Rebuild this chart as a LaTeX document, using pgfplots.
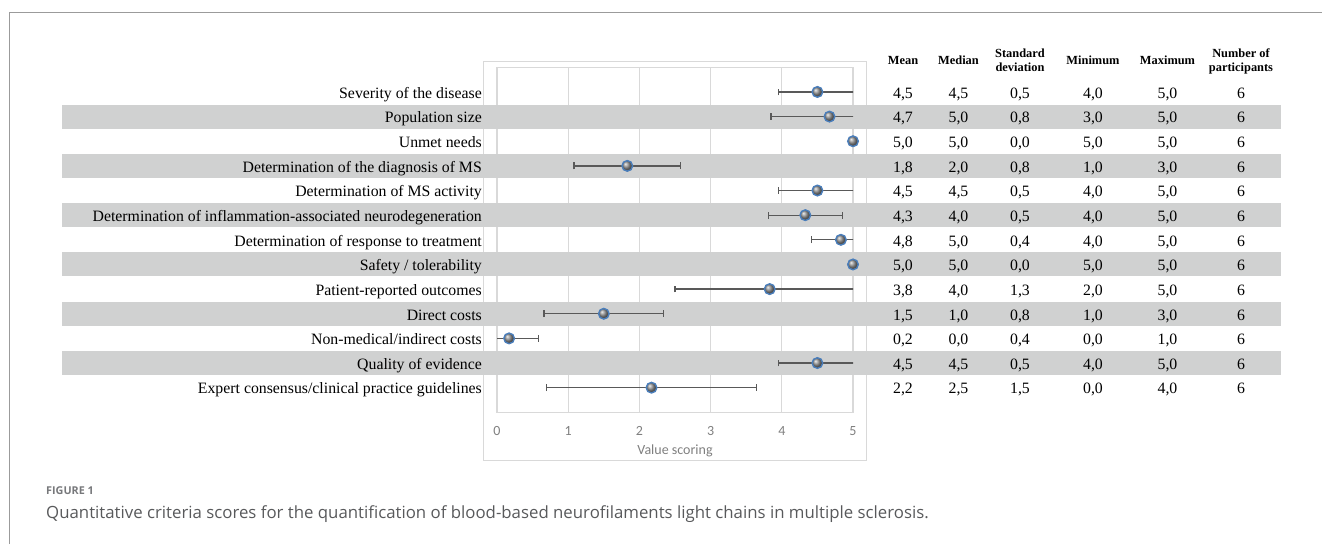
\documentclass[border=0pt]{standalone}
\usepackage{pgfplots}
\pgfplotsset{compat=1.18}
\usepackage{pgfplotstable}
\usepackage{fontspec}
\setmainfont{Liberation Serif}
\newfontfamily\carlito{Carlito}
\newfontfamily\osans{Open Sans}
\definecolor{bandgray}{HTML}{D0D1D1}
\definecolor{gridgray}{HTML}{D9D9D9}
\definecolor{framegray}{HTML}{9B9B9B}
\definecolor{ticgray}{HTML}{7F7F7F}
\definecolor{errgray}{HTML}{595959}
\definecolor{mblue}{HTML}{4A7EBB}
\definecolor{ballgray}{HTML}{8A8A8A}
\definecolor{capgray}{HTML}{58595B}
\definecolor{figgray}{HTML}{77787B}
\newcommand\lab{\fontsize{15.8}{18}\selectfont}
\newcommand\hdr{\bfseries\fontsize{12.4}{14}\selectfont}

\pgfplotstableread{
row mean sd
1 4.50 0.55
2 4.67 0.82
3 5.00 0
4 1.83 0.75
5 4.50 0.55
6 4.33 0.52
7 4.83 0.41
8 5.00 0
9 3.83 1.33
10 1.50 0.84
11 0.17 0.41
12 4.50 0.55
13 2.17 1.47
}\crit

\pgfplotsset{myax/.style={scale only axis, width=356pt, height=345pt,
  xmin=0, xmax=5, ymin=0, ymax=14, y dir=reverse,
  at={(497pt,-67.3pt)}, anchor=north west}}

\newcommand\trow[7]{%
  \pgfmathsetmacro\yy{-(73.6+#1*24.64)}%
  \node[anchor=base,inner sep=0,font=\lab] at (903,\yy) {#2};
  \node[anchor=base,inner sep=0,font=\lab] at (958.5,\yy) {#3};
  \node[anchor=base,inner sep=0,font=\lab] at (1020,\yy) {#4};
  \node[anchor=base,inner sep=0,font=\lab] at (1093,\yy) {#5};
  \node[anchor=base,inner sep=0,font=\lab] at (1167.5,\yy) {#6};
  \node[anchor=base,inner sep=0,font=\lab] at (1241,\yy) {#7};
}

\begin{document}
\begin{tikzpicture}
\begin{scope}[x=1pt,y=1pt]
\path[use as bounding box] (0,0) rectangle (1322,-544);
\draw[framegray, line width=1pt] (9,-544) -- (9,-12) -- (1322,-12);
\draw[gridgray, line width=1pt] (483.5,-61.7) rectangle (866.5,-460.7);
\end{scope}

% grid and frame
\begin{axis}[myax,
  axis line style={gridgray, line width=1.3pt},
  xtick={0,1,2,3,4,5}, ytick=\empty,
  xmajorgrids, grid style={gridgray, line width=1.3pt},
  major tick length=0pt,
  /pgf/number format/assume math mode=true,
  xticklabel style={font=\carlito\fontsize{14}{16}\selectfont, text=ticgray, anchor=base, yshift=-22.9pt},
  xlabel={Value scoring},
  xlabel style={font=\carlito\fontsize{14}{16}\selectfont, text=ticgray, at={(axis description cs:0.5,0)}, anchor=base, yshift=-42pt},
]
\end{axis}

% alternating bands
\begin{axis}[myax, hide axis, clip=false]
\addplot[draw=none, fill=bandgray, forget plot] coordinates {(-6.11,1.513) (11.01,1.513) (11.01,2.487) (-6.11,2.487)} -- cycle;
\addplot[draw=none, fill=bandgray, forget plot] coordinates {(-6.11,3.513) (11.01,3.513) (11.01,4.487) (-6.11,4.487)} -- cycle;
\addplot[draw=none, fill=bandgray, forget plot] coordinates {(-6.11,5.513) (11.01,5.513) (11.01,6.487) (-6.11,6.487)} -- cycle;
\addplot[draw=none, fill=bandgray, forget plot] coordinates {(-6.11,7.513) (11.01,7.513) (11.01,8.487) (-6.11,8.487)} -- cycle;
\addplot[draw=none, fill=bandgray, forget plot] coordinates {(-6.11,9.513) (11.01,9.513) (11.01,10.487) (-6.11,10.487)} -- cycle;
\addplot[draw=none, fill=bandgray, forget plot] coordinates {(-6.11,11.513) (11.01,11.513) (11.01,12.487) (-6.11,12.487)} -- cycle;
\end{axis}

% error bars (clipped to 0..5)
\begin{axis}[myax, hide axis, clip marker paths=true]
\addplot[only marks, mark=none, draw=errgray,
  error bars/.cd, x dir=both, x explicit,
  error mark=|,
  error bar style={draw=errgray, line width=1.3pt},
  error mark options={draw=errgray, line width=1.3pt, mark size=3.4pt}]
  table[x=mean, y=row, x error=sd] {\crit};
\end{axis}

% markers
\begin{axis}[myax, hide axis, clip=false]
\addplot[only marks, color=ballgray, mark=ball, mark size=5.3pt, mark options={ball color=ballgray}] table[x=mean,y=row]{\crit};
\addplot[only marks, mark=o, mark size=5.3pt, mark options={draw=mblue, line width=1.4pt}] table[x=mean,y=row]{\crit};
\end{axis}

\begin{scope}[x=1pt,y=1pt]
\foreach \i/\t in {1/Severity of the disease, 2/Population size, 3/Unmet needs,
  4/Determination of the diagnosis of MS, 5/Determination of MS activity,
  6/Determination of inflammation-associated neurodegeneration,
  7/Determination of response to treatment, 8/{Safety / tolerability},
  9/Patient-reported outcomes, 10/Direct costs, 11/{Non-medical/indirect costs},
  12/Quality of evidence, 13/{Expert consensus/clinical practice guidelines}}
{\pgfmathsetmacro\yy{-(73.6+\i*24.64)}
 \node[anchor=base east, inner sep=0, font=\lab] at (482,\yy) {\t};}

\node[anchor=base,inner sep=0,font=\hdr] at (903,-64) {Mean};
\node[anchor=base,inner sep=0,font=\hdr] at (958.5,-64) {Median};
\node[anchor=base,inner sep=0,font=\hdr] at (1020,-57) {Standard};
\node[anchor=base,inner sep=0,font=\hdr] at (1020,-71.5) {deviation};
\node[anchor=base,inner sep=0,font=\hdr] at (1093,-64) {Minimum};
\node[anchor=base,inner sep=0,font=\hdr] at (1167.5,-64) {Maximum};
\node[anchor=base,inner sep=0,font=\hdr] at (1241,-57) {Number of};
\node[anchor=base,inner sep=0,font=\hdr] at (1241,-71.5) {participants};

\trow{1}{4,5}{4,5}{0,5}{4,0}{5,0}{6}
\trow{2}{4,7}{5,0}{0,8}{3,0}{5,0}{6}
\trow{3}{5,0}{5,0}{0,0}{5,0}{5,0}{6}
\trow{4}{1,8}{2,0}{0,8}{1,0}{3,0}{6}
\trow{5}{4,5}{4,5}{0,5}{4,0}{5,0}{6}
\trow{6}{4,3}{4,0}{0,5}{4,0}{5,0}{6}
\trow{7}{4,8}{5,0}{0,4}{4,0}{5,0}{6}
\trow{8}{5,0}{5,0}{0,0}{5,0}{5,0}{6}
\trow{9}{3,8}{4,0}{1,3}{2,0}{5,0}{6}
\trow{10}{1,5}{1,0}{0,8}{1,0}{3,0}{6}
\trow{11}{0,2}{0,0}{0,4}{0,0}{1,0}{6}
\trow{12}{4,5}{4,5}{0,5}{4,0}{5,0}{6}
\trow{13}{2,2}{2,5}{1,5}{0,0}{4,0}{6}

\node[anchor=base west, inner sep=0, font=\osans\bfseries\fontsize{10.8}{13}\selectfont, text=figgray] at (46,-494) {FIGURE 1};
\node[anchor=base west, inner sep=0, font=\osans\fontsize{16.8}{20}\selectfont, text=capgray] at (46,-518) {Quantitative criteria scores for the quantification of blood-based neurofilaments light chains in multiple sclerosis.};
\end{scope}
\end{tikzpicture}
\end{document}
